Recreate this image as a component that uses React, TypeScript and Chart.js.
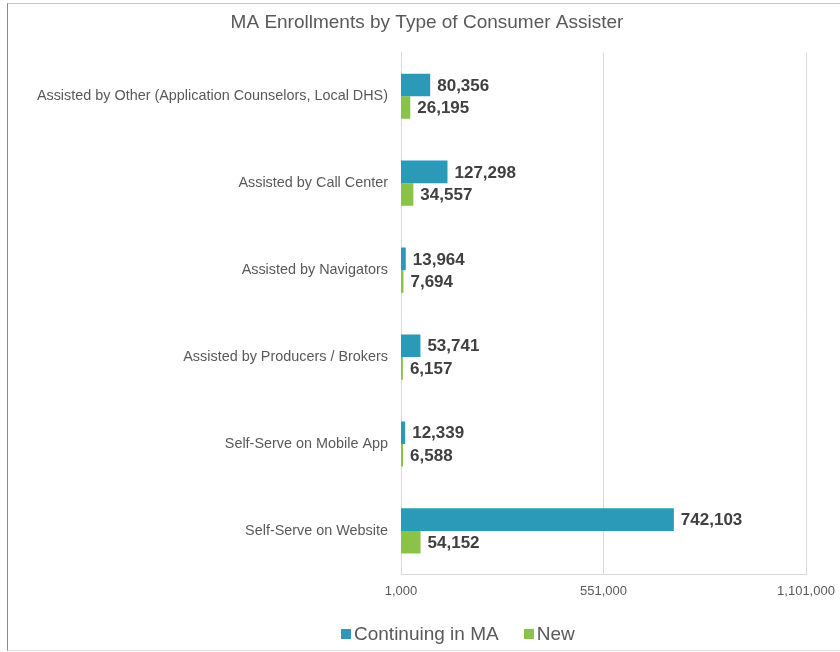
import React, { useEffect, useRef } from "react";
import { Chart, registerables } from "chart.js";

Chart.register(...registerables);

const categories = [
  "Assisted by Other (Application Counselors, Local DHS)",
  "Assisted by Call Center",
  "Assisted by Navigators",
  "Assisted by Producers / Brokers",
  "Self-Serve on Mobile App",
  "Self-Serve on Website",
];
const continuingInMA = [80356, 127298, 13964, 53741, 12339, 742103];
const newEnrollments = [26195, 34557, 7694, 6157, 6588, 54152];
const xTickValues = [1000, 551000, 1101000];
const seriesNames = ["Continuing in MA", "New"];
const seriesColors = ["#2A9AB8", "#8BC34A"];

const FONT = "Arial, 'Liberation Sans', sans-serif";

const valueLabels = {
  id: "valueLabels",
  afterDatasetsDraw(chart: any) {
    const ctx = chart.ctx;
    ctx.save();
    ctx.font = `bold 17px ${FONT}`;
    ctx.fillStyle = "#404040";
    ctx.textAlign = "left";
    ctx.textBaseline = "middle";
    chart.data.datasets.forEach((ds: any, di: number) => {
      const meta = chart.getDatasetMeta(di);
      meta.data.forEach((bar: any, i: number) => {
        const v = ds.data[i] as number;
        ctx.fillText(v.toLocaleString("en-US"), bar.x + 7, bar.y + 1);
      });
    });
    ctx.restore();
  },
};

export default function App() {
  const ref = useRef<HTMLCanvasElement | null>(null);

  useEffect(() => {
    if (!ref.current) return;
    const chart = new Chart(ref.current, {
      type: "bar",
      data: {
        labels: categories,
        datasets: [
          {
            label: seriesNames[0],
            data: continuingInMA,
            backgroundColor: seriesColors[0],
            barPercentage: 1,
            categoryPercentage: 0.52,
          },
          {
            label: seriesNames[1],
            data: newEnrollments,
            backgroundColor: seriesColors[1],
            barPercentage: 1,
            categoryPercentage: 0.52,
          },
        ],
      },
      options: {
        indexAxis: "y",
        responsive: false,
        animation: false,
        layout: { padding: { left: 0, right: 0, top: 0, bottom: 42 } },
        plugins: {
          legend: { display: false },
          tooltip: { enabled: false },
          title: {
            display: true,
            text: "MA Enrollments by Type of Consumer Assister",
            color: "#595959",
            font: { family: FONT, size: 19, weight: "normal" },
            padding: { top: 7, bottom: 19 },
          },
        },
        scales: {
          x: {
            type: "linear",
            min: 1000,
            max: 1101000,
            afterBuildTicks: (scale: any) => {
              scale.ticks = xTickValues.map((v) => ({ value: v }));
            },
            afterFit: (scale: any) => {
              scale.paddingRight = 40;
            },
            grid: { color: "#d9d9d9", drawTicks: false },
            border: { display: true, color: "#d9d9d9" },
            ticks: {
              color: "#595959",
              font: { family: FONT, size: 13 },
              padding: 9,
              maxRotation: 0,
              callback: (v: any) => Number(v).toLocaleString("en-US"),
            },
          },
          y: {
            grid: { display: false, drawTicks: false },
            border: { display: true, color: "#d9d9d9" },
            afterFit: (scale: any) => {
              scale.width = 393;
            },
            ticks: {
              color: "#595959",
              font: { family: FONT, size: 14.4 },
              padding: 13,
            },
          },
        },
      },
      plugins: [valueLabels],
    });
    return () => chart.destroy();
  }, []);

  return (
    <div
      style={{
        position: "fixed",
        inset: 0,
        overflow: "hidden",
        background: "#fff",
        fontFamily: FONT,
      }}
    >
      <div
        style={{
          position: "absolute",
          left: 7,
          top: 3,
          width: 838,
          height: 646,
          borderTop: "1px solid #c8c8c8",
          borderLeft: "1px solid #8a8a8a",
          borderBottom: "1px solid #e0e0e0",
          borderRight: "1px solid #e0e0e0",
        }}
      >
        <canvas
          ref={ref}
          width={838}
          height={646}
          style={{ display: "block" }}
        />
        <div
          style={{
            position: "absolute",
            left: 333,
            top: 618,
            display: "flex",
            alignItems: "center",
            fontSize: 19,
            color: "#595959",
            whiteSpace: "nowrap",
            lineHeight: "24px",
          }}
        >
          {seriesNames.map((name, i) => (
            <div
              key={name}
              style={{
                display: "flex",
                alignItems: "center",
                marginRight: i === 0 ? 25 : 0,
              }}
            >
              <span
                style={{
                  display: "inline-block",
                  width: 10,
                  height: 10,
                  background: seriesColors[i],
                  marginRight: 3,
                }}
              />
              <span>{name}</span>
            </div>
          ))}
        </div>
      </div>
    </div>
  );
}
